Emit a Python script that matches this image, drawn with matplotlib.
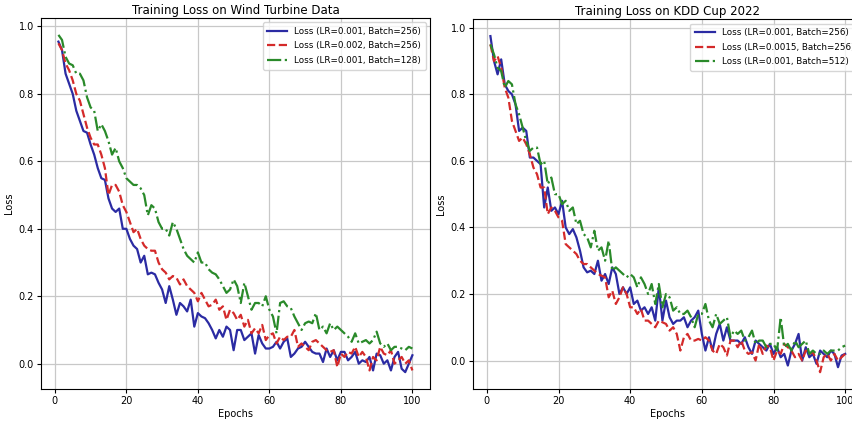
import numpy as np
import matplotlib
matplotlib.use('Agg')
import matplotlib.pyplot as plt

epochs = np.arange(1, 101)

# Wind Turbine Data
wind_lr001_b256 = [
    0.955, 0.93, 0.86, 0.83, 0.80, 0.75, 0.72, 0.69, 0.685, 0.65,
    0.62, 0.58, 0.55, 0.545, 0.49, 0.46, 0.45, 0.46, 0.40, 0.40,
    0.37, 0.35, 0.34, 0.30, 0.32, 0.265, 0.27, 0.265, 0.24, 0.22,
    0.18, 0.23, 0.19, 0.145, 0.18, 0.17, 0.155, 0.19, 0.11, 0.15,
    0.14, 0.135, 0.12, 0.10, 0.075, 0.10, 0.08, 0.11, 0.10, 0.04,
    0.10, 0.10, 0.07, 0.08, 0.09, 0.03, 0.085, 0.06, 0.045, 0.045,
    0.05, 0.065, 0.045, 0.065, 0.075, 0.02, 0.03, 0.045, 0.05, 0.065,
    0.05, 0.035, 0.03, 0.03, 0.005, 0.045, 0.02, 0.04, 0.01, 0.035,
    0.035, 0.01, 0.02, 0.035, 0.0, 0.01, 0.005, 0.02, -0.02, 0.03,
    0.025, 0.0, 0.01, -0.02, 0.02, 0.035, -0.015, -0.025, 0.0, 0.025]
wind_lr002_b256 = [
    0.95, 0.93, 0.89, 0.87, 0.84, 0.80, 0.78, 0.74, 0.70, 0.67,
    0.65, 0.65, 0.62, 0.58, 0.50, 0.53, 0.53, 0.51, 0.47, 0.45,
    0.42, 0.39, 0.40, 0.37, 0.35, 0.34, 0.335, 0.335, 0.30, 0.28,
    0.27, 0.25, 0.26, 0.255, 0.235, 0.25, 0.23, 0.22, 0.21, 0.185,
    0.21, 0.19, 0.17, 0.175, 0.19, 0.16, 0.17, 0.13, 0.16, 0.15,
    0.13, 0.145, 0.11, 0.13, 0.09, 0.105, 0.09, 0.115, 0.07, 0.085,
    0.09, 0.06, 0.08, 0.07, 0.08, 0.08, 0.10, 0.05, 0.06, 0.05,
    0.04, 0.065, 0.07, 0.06, 0.05, 0.04, 0.035, 0.04, -0.01, 0.03,
    0.02, 0.035, 0.03, 0.05, 0.02, 0.035, 0.02, -0.02, 0.02, 0.01,
    0.05, 0.03, 0.025, 0.04, 0.0, 0.01, 0.02, 0.0, 0.01, -0.02]
wind_lr001_b128 = [
    0.975, 0.96, 0.91, 0.89, 0.885, 0.86, 0.86, 0.84, 0.79, 0.76,
    0.75, 0.69, 0.71, 0.69, 0.66, 0.62, 0.64, 0.60, 0.58, 0.55,
    0.54, 0.53, 0.53, 0.52, 0.50, 0.44, 0.47, 0.46, 0.42, 0.40,
    0.40, 0.38, 0.42, 0.40, 0.37, 0.34, 0.32, 0.31, 0.30, 0.33,
    0.30, 0.30, 0.28, 0.27, 0.265, 0.25, 0.23, 0.21, 0.22, 0.25,
    0.23, 0.18, 0.24, 0.20, 0.16, 0.18, 0.18, 0.17, 0.20, 0.16,
    0.14, 0.09, 0.18, 0.185, 0.17, 0.165, 0.14, 0.12, 0.10, 0.12,
    0.125, 0.12, 0.15, 0.10, 0.11, 0.09, 0.12, 0.10, 0.11, 0.10,
    0.09, 0.08, 0.065, 0.09, 0.06, 0.065, 0.07, 0.06, 0.07, 0.095,
    0.06, 0.05, 0.06, 0.04, 0.05, 0.05, 0.045, 0.04, 0.05, 0.045]

# KDD Cup 2022
kdd_lr001_b256 = [
    0.975, 0.90, 0.86, 0.905, 0.83, 0.81, 0.80, 0.77, 0.69, 0.70,
    0.69, 0.61, 0.61, 0.60, 0.59, 0.46, 0.52, 0.45, 0.46, 0.44,
    0.48, 0.40, 0.38, 0.395, 0.37, 0.33, 0.28, 0.265, 0.27, 0.26,
    0.30, 0.24, 0.26, 0.23, 0.28, 0.26, 0.20, 0.22, 0.20, 0.22,
    0.17, 0.18, 0.15, 0.16, 0.14, 0.16, 0.12, 0.22, 0.12, 0.18,
    0.13, 0.11, 0.12, 0.12, 0.13, 0.10, 0.12, 0.13, 0.15, 0.08,
    0.03, 0.07, 0.03, 0.08, 0.11, 0.06, 0.10, 0.06, 0.06, 0.06,
    0.05, 0.07, 0.04, 0.02, 0.06, 0.05, 0.04, 0.03, 0.05, 0.02,
    0.04, 0.01, 0.02, -0.015, 0.03, 0.05, 0.08, 0.0, 0.04, 0.01,
    0.02, -0.01, 0.03, 0.02, 0.01, 0.03, 0.02, -0.02, 0.015, 0.02]
kdd_lr0015_b256 = [
    0.95, 0.90, 0.915, 0.88, 0.82, 0.79, 0.72, 0.69, 0.66, 0.67,
    0.65, 0.62, 0.58, 0.56, 0.52, 0.52, 0.44, 0.46, 0.45, 0.43,
    0.42, 0.35, 0.34, 0.33, 0.32, 0.30, 0.29, 0.29, 0.28, 0.27,
    0.26, 0.255, 0.25, 0.19, 0.21, 0.17, 0.19, 0.22, 0.20, 0.16,
    0.16, 0.14, 0.155, 0.12, 0.12, 0.11, 0.10, 0.12, 0.115, 0.11,
    0.09, 0.10, 0.08, 0.03, 0.07, 0.08, 0.06, 0.06, 0.065, 0.06,
    0.07, 0.06, 0.03, 0.02, 0.05, 0.04, 0.015, 0.06, 0.06, 0.04,
    0.06, 0.03, 0.02, 0.025, 0.0, 0.05, 0.02, 0.045, 0.04, 0.0,
    0.03, 0.02, 0.05, 0.04, 0.03, 0.01, 0.02, 0.0, 0.03, 0.02,
    0.025, 0.0, -0.035, 0.01, 0.02, 0.0, 0.02, 0.0, 0.01, 0.02]
kdd_lr001_b512 = [
    0.95, 0.92, 0.88, 0.87, 0.82, 0.84, 0.83, 0.77, 0.74, 0.70,
    0.66, 0.63, 0.64, 0.64, 0.59, 0.60, 0.53, 0.55, 0.50, 0.50,
    0.47, 0.48, 0.45, 0.46, 0.41, 0.42, 0.38, 0.37, 0.34, 0.39,
    0.33, 0.34, 0.30, 0.36, 0.27, 0.28, 0.27, 0.26, 0.25, 0.26,
    0.25, 0.22, 0.25, 0.23, 0.20, 0.23, 0.17, 0.23, 0.16, 0.20,
    0.19, 0.15, 0.16, 0.14, 0.14, 0.15, 0.13, 0.10, 0.14, 0.14,
    0.17, 0.12, 0.10, 0.14, 0.11, 0.12, 0.13, 0.07, 0.09, 0.08,
    0.09, 0.06, 0.07, 0.09, 0.05, 0.06, 0.06, 0.04, 0.05, 0.05,
    0.03, 0.13, 0.04, 0.05, 0.03, 0.06, 0.04, 0.05, 0.06, 0.02,
    0.03, 0.02, 0.02, 0.03, 0.02, 0.03, 0.03, 0.03, 0.04, 0.045]

wind_labels = ['Loss (LR=0.001, Batch=256)', 'Loss (LR=0.002, Batch=256)',
               'Loss (LR=0.001, Batch=128)']
kdd_labels = ['Loss (LR=0.001, Batch=256)', 'Loss (LR=0.0015, Batch=256)',
              'Loss (LR=0.001, Batch=512)']

blue = '#2b2ba3'
red = '#d42a2a'
green = '#2a8a2a'

fig = plt.figure(figsize=(8.52, 4.23), dpi=100)
ax1 = fig.add_axes([0.0478, 0.0804, 0.457, 0.877])
# the right panel runs past the figure edge, as in the cropped original
ax2 = fig.add_axes([0.5548, 0.0804, 0.458, 0.874])

panels = [
    (ax1, [wind_lr001_b256, wind_lr002_b256, wind_lr001_b128], wind_labels,
     'Training Loss on Wind Turbine Data'),
    (ax2, [kdd_lr001_b256, kdd_lr0015_b256, kdd_lr001_b512], kdd_labels,
     'Training Loss on KDD Cup 2022'),
]

for ax, series, labels, title in panels:
    ax.plot(epochs, series[0], '-', color=blue, lw=1.6, label=labels[0])
    ax.plot(epochs, series[1], '--', color=red, lw=1.6, label=labels[1])
    ax.plot(epochs, series[2], '-.', color=green, lw=1.6, label=labels[2])
    ax.set_title(title, fontsize=8.5, pad=3)
    ax.set_xlabel('Epochs', fontsize=7, labelpad=2)
    ax.set_ylabel('Loss', fontsize=7, labelpad=3)
    ax.tick_params(labelsize=7, length=3, pad=2)
    ax.set_xticks([0, 20, 40, 60, 80, 100])
    ax.set_yticks([0.0, 0.2, 0.4, 0.6, 0.8, 1.0])
    ax.grid(True, color='#c8c8c8', lw=0.9)
    ax.legend(loc='upper right', fontsize=6.3, handlelength=2.3,
              borderpad=0.5, labelspacing=0.65)

fig.savefig('out.png', dpi=100)
